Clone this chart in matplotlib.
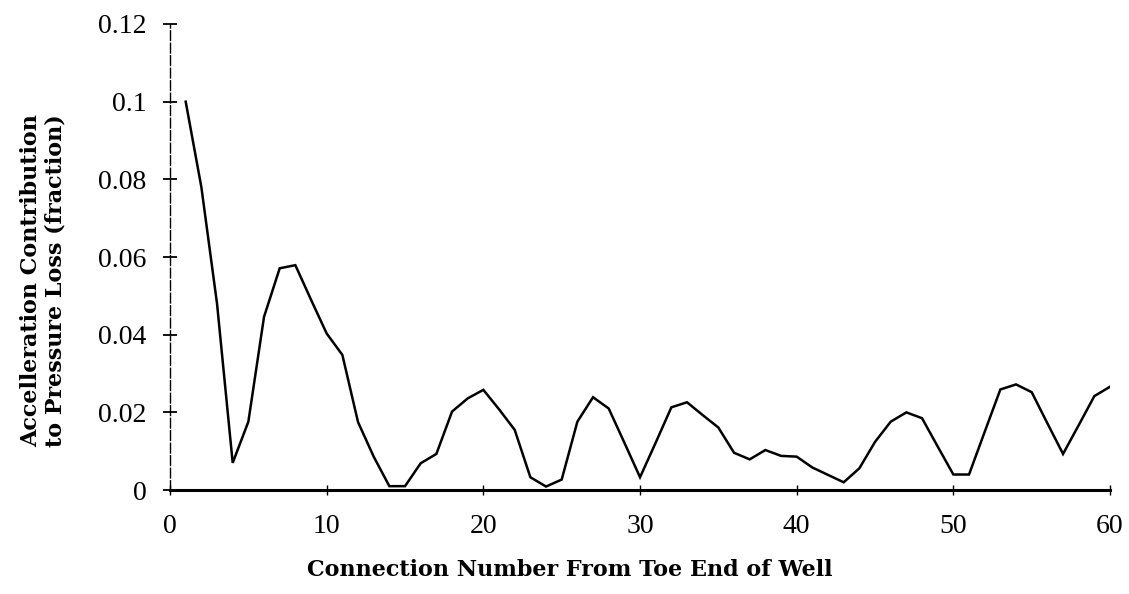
import matplotlib
matplotlib.use("Agg")
import matplotlib.pyplot as plt

# Connection index counted from the toe end of the well
connection = list(range(1, 61))

# Fraction of the pressure loss attributable to acceleration
accel_fraction = [
    0.100, 0.078, 0.048, 0.007, 0.0176, 0.0446, 0.0571, 0.0579, 0.0490, 0.0403,
    0.0348, 0.0175, 0.0086, 0.0010, 0.0010, 0.0069, 0.0093, 0.0202, 0.0236, 0.0258,
    0.0208, 0.0155, 0.0033, 0.0009, 0.0027, 0.0176, 0.0239, 0.0210, 0.0122, 0.0033,
    0.0122, 0.0213, 0.0226, 0.0193, 0.0161, 0.0096, 0.0079, 0.0103, 0.0088, 0.0086,
    0.0058, 0.0039, 0.0020, 0.0056, 0.0124, 0.0176, 0.0200, 0.0185, 0.0112, 0.0040,
    0.0040, 0.0150, 0.0259, 0.0272, 0.0252, 0.0172, 0.0093, 0.0167, 0.0242, 0.0266,
]

x_ticks = [0, 10, 20, 30, 40, 50, 60]
y_ticks = [0, 0.02, 0.04, 0.06, 0.08, 0.10, 0.12]
y_tick_labels = ["0", "0.02", "0.04", "0.06", "0.08", "0.1", "0.12"]

fig = plt.figure(figsize=(11.29, 5.94), dpi=100)
ax = fig.add_axes([0.1506, 0.175, 0.8326, 0.7846])

ax.plot(connection, accel_fraction, color="black", lw=1.8, solid_joinstyle="miter")

ax.set_xlim(0, 60)
ax.set_ylim(0, 0.12)
ax.set_xticks(x_ticks)
ax.set_yticks(y_ticks)
ax.set_yticklabels(y_tick_labels)

for side in ("top", "right"):
    ax.spines[side].set_visible(False)
ax.spines["left"].set_linewidth(1.0)
ax.spines["left"].set_linestyle((0, (7, 2)))
ax.spines["bottom"].set_linewidth(2.2)

ax.tick_params(axis="y", direction="inout", length=10, width=1.3, pad=12,
               labelsize=20)
ax.tick_params(axis="x", direction="inout", length=7, width=1.0, pad=14,
               labelsize=20)
for lbl in ax.get_xticklabels() + ax.get_yticklabels():
    lbl.set_fontfamily("Liberation Serif")

ax.set_xlabel("Connection Number From Toe End of Well",
              fontfamily="DejaVu Serif", fontweight="bold", fontsize=16)
ax.xaxis.set_label_coords(0.425, -0.148)

fig.text(0.038, 0.528,
         "Accelleration Contribution\nto Pressure Loss (fraction)",
         rotation=90, ha="center", va="center", multialignment="left",
         fontfamily="DejaVu Serif", fontweight="bold", fontsize=16,
         linespacing=1.15)

fig.savefig("out.png", dpi=100)
